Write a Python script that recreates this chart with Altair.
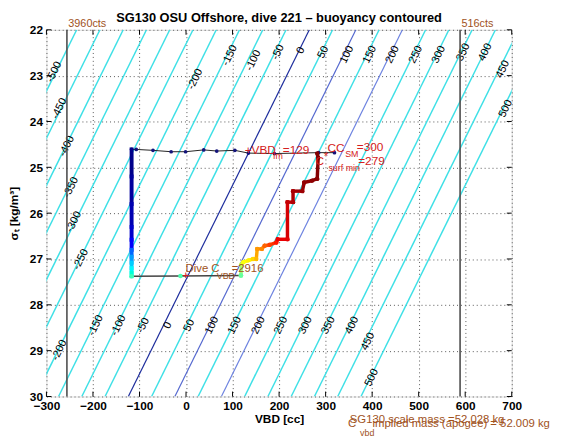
import altair as alt
import pandas as pd

FONT = "Liberation Sans"
RED = "#d42020"
BROWN = "#a0521c"

# ---------------- axes ----------------
x_ticks = [-300, -200, -100, 0, 100, 200, 300, 400, 500, 600, 700]
y_ticks = [22, 23, 24, 25, 26, 27, 28, 29, 30]

# ---------------- buoyancy contours (g) ----------------
levels = [-500, -450, -400, -350, -300, -250, -200, -150, -100, -50, 0,
          50, 100, 150, 200, 250, 300, 350, 400, 450, 500]
vbd_at_sigma22 = [-235, -185, -135, -85, -35, 15, 65, 115, 165, 215, 265,
                  315, 365, 415, 465, 515, 565, 615, 665, 715, 765]
vbd_at_sigma30 = [-624, -574, -524, -474, -424, -374, -324, -274, -224, -174, -124,
                  -74, -24, 26, 76, 126, 176, 226, 276, 326, 376]
blue_levels = [0, 100, 200]
blue_colors = ["#1c2c9c", "#5468cf", "#6c82e0"]

label_levels = [-500, -450, -400, -350, -300, -250, -200,
                -200, -150, -100, -50, 0, 50, 100, 150, 200, 250, 300, 350, 400, 450, 500,
                -150, -100, -50, 0, 50, 100, 150, 200, 250, 300, 350, 400, 450, 500]
label_vbd = [-283, -272, -256, -247, -241, -226, -272,
             20, 94, 145, 198, 247, 295, 346, 395, 444, 494, 543, 596, 643, 681, 687,
             -194, -145, -92, -39, 7, 56, 105, 156, 204, 257, 306, 357, 391, 399]
label_sigma = [22.92, 23.72, 24.54, 25.44, 26.19, 27.01, 28.99,
               23.08, 22.56, 22.67, 22.49, 22.45, 22.49, 22.54, 22.54, 22.54, 22.54, 22.54,
               22.49, 22.49, 22.86, 23.72,
               28.45, 28.45, 28.45, 28.45, 28.45, 28.45, 28.45, 28.45, 28.45, 28.45,
               28.45, 28.45, 28.8, 29.59]

# ---------------- VBD count limits ----------------
cts_vbd = [-256, 589]
cts_text = ["3960cts", "516cts"]
cts_label_vbd = [-253, 592]
cts_label_sigma = [21.87, 21.87]

# ---------------- dive track ----------------
surf_vbd = [-117, -107, -71, -32, -1, 38, 66, 105, 134, 190, 285, 319]
surf_sigma = [24.61, 24.61, 24.63, 24.66, 24.66, 24.62, 24.645, 24.63, 24.69, 24.70, 24.68, 24.68]

desc_vbd = -117
desc_sigma = [24.61, 25.2, 25.8, 26.3, 26.58, 26.8, 26.95, 27.08, 27.2, 27.3, 27.376]
desc_t = [0.0, 0.02, 0.04, 0.06, 0.09, 0.15, 0.21, 0.27, 0.33, 0.40, 0.47]

apo_vbd = [-117, -12, 118]
apo_sigma = [27.376, 27.37, 27.36]
apo_t = [0.47, 0.48, 0.50]

climb_vbd = [118, 119, 123, 134, 144, 151, 153, 163, 169, 180, 194, 197, 218, 218,
             230, 230, 250, 254, 271, 282, 284, 282]
climb_sigma = [27.36, 27.12, 27.07, 27.03, 27.00, 27.00, 26.78, 26.78, 26.71, 26.69, 26.64,
               26.57, 26.57, 25.76, 25.76, 25.52, 25.52, 25.33, 25.29, 25.25, 24.79, 24.70]
climb_t = [0.50, 0.58, 0.62, 0.64, 0.68, 0.72, 0.76, 0.78, 0.82, 0.85, 0.87, 0.89, 0.90,
           0.93, 0.95, 0.96, 0.97, 0.98, 0.985, 0.99, 1.0, 1.0]

# ---------------- annotations ----------------
red_text = ["+VBD", "=129", "CC", "=300", "C", "*", "=279", "+"]
red_vbd = [126, 208, 304, 367, 278, 296, 370, -8]
red_sigma = [24.62, 24.62, 24.58, 24.56, 24.86, 24.75, 24.86, 27.355]
red_sub_text = ["fm", "SM", "surf min"]
red_sub_vbd = [187, 342, 306]
red_sub_sigma = [24.75, 24.71, 25.01]

brown_text = ["Dive C", "=2916", "SG130 scale mass =52.028 kg", "C",
              "implied mass (apogee) = 52.009 kg"]
brown_vbd = [-1, 98, 352, 348, 401]
brown_sigma = [27.226, 27.226, 30.51, 30.6, 30.6]
brown_sub_text = ["VBD", "vbd"]
brown_sub_vbd = [66, 374]
brown_sub_sigma = [27.376, 30.8]

TITLE = "SG130 OSU Offshore, dive 221 \u2013 buoyancy contoured"

# ---------------- build tables ----------------
W, H = 472, 372
xs = alt.Scale(domain=[-300, 700], nice=False, zero=False)
ys = alt.Scale(domain=[22, 30], nice=False, zero=False, reverse=True)
jet = alt.Scale(domain=[0, 0.125, 0.375, 0.625, 0.875, 1.0],
                range=["#000080", "#0000ff", "#00ffff", "#ffff00", "#ff0000", "#800000"])

x_axis = alt.Axis(values=x_ticks, grid=True, gridColor="#555555", gridDash=[1, 3],
                  gridWidth=1, ticks=False, domain=False, labelFont=FONT,
                  labelFontSize=12, labelFontWeight="bold", labelColor="black",
                  labelPadding=4, labelFlush=False, labelOverlap=False, format="d",
                  title="VBD [cc]", titleFont=FONT, titleFontSize=12,
                  titleFontWeight="bold", titleColor="black", titlePadding=2)
y_axis = alt.Axis(values=y_ticks, grid=True, gridColor="#555555", gridDash=[1, 3],
                  gridWidth=1, ticks=False, domain=False, labelFont=FONT,
                  labelFontSize=12, labelFontWeight="bold", labelColor="black",
                  labelPadding=4, labelFlush=False, labelOverlap=False, format="d",
                  title="\u03c3\u209c [kg/m\u00b3]", titleFont=FONT, titleFontSize=12,
                  titleFontWeight="bold", titleColor="black", titlePadding=9)


def X(f="vbd"):
    return alt.X(f"{f}:Q", scale=xs, axis=x_axis)


def Y(f="sigma"):
    return alt.Y(f"{f}:Q", scale=ys, axis=y_axis)


rows = []
for lv, xt, xb in zip(levels, vbd_at_sigma22, vbd_at_sigma30):
    rows.append({"level": lv, "vbd": xt, "sigma": 22})
    rows.append({"level": lv, "vbd": xb, "sigma": 30})
cont = pd.DataFrame(rows)
cyan_df = cont[~cont.level.isin(blue_levels)]
blue_df = cont[cont.level.isin(blue_levels)]

cyan_layer = alt.Chart(cyan_df).mark_line(clip=True, color="#3ee0e6", strokeWidth=1.5).encode(
    x=X(), y=Y(), detail="level:N", order="sigma:Q")

blue_layer = alt.Chart(blue_df).mark_line(clip=True, strokeWidth=1.2).encode(
    x=X(), y=Y(), detail="level:N", order="sigma:Q",
    color=alt.Color("level:N", scale=alt.Scale(domain=blue_levels, range=blue_colors),
                    legend=None))

labels_df = pd.DataFrame({"vbd": label_vbd, "sigma": label_sigma,
                          "txt": [str(v) for v in label_levels]})
labels_layer = alt.Chart(labels_df).mark_text(font=FONT, fontSize=11, color="black",
                                              angle=296, align="center",
                                              baseline="middle").encode(
    x=X(), y=Y(), text="txt:N")

cts_df = pd.DataFrame({"vbd": cts_vbd})
cts_layer = alt.Chart(cts_df).mark_rule(color="#4d4d4d", strokeWidth=1.6).encode(
    x=X(), y=alt.value(0), y2=alt.value(H))
cts_lab_df = pd.DataFrame({"vbd": cts_label_vbd, "sigma": cts_label_sigma, "txt": cts_text})
cts_lab_layer = alt.Chart(cts_lab_df).mark_text(font=FONT, fontSize=11, color=BROWN,
                                                align="left", baseline="middle").encode(
    x=X(), y=Y(), text="txt:N")

apo_df = pd.DataFrame({"vbd": apo_vbd, "sigma": apo_sigma, "t": apo_t})
apo_line = alt.Chart(apo_df).mark_line(color="#444444", strokeWidth=1.5).encode(
    x=X(), y=Y(), order="vbd:Q")

surf_df = pd.DataFrame({"vbd": surf_vbd, "sigma": surf_sigma})
surf_line = alt.Chart(surf_df).mark_line(color="#222222", strokeWidth=1).encode(
    x=X(), y=Y(), order="vbd:Q")
surf_dots = alt.Chart(surf_df).mark_circle(color="#14147a", size=14, opacity=1).encode(
    x=X(), y=Y())


def segments(xv, sv, tv):
    out = []
    for i in range(len(sv) - 1):
        out.append({"vbd": xv[i], "sigma": sv[i], "vbd2": xv[i + 1], "sigma2": sv[i + 1],
                    "t": (tv[i] + tv[i + 1]) / 2})
    return pd.DataFrame(out)


desc_df = segments([desc_vbd] * len(desc_sigma), desc_sigma, desc_t)
climb_df = segments(climb_vbd, climb_sigma, climb_t)

desc_layer = alt.Chart(desc_df).mark_rule(strokeWidth=4, strokeCap="square").encode(
    x=X(), y=Y(), x2="vbd2:Q", y2="sigma2:Q",
    color=alt.Color("t:Q", scale=jet, legend=None))
climb_layer = alt.Chart(climb_df).mark_rule(strokeWidth=3.5, strokeCap="square").encode(
    x=X(), y=Y(), x2="vbd2:Q", y2="sigma2:Q",
    color=alt.Color("t:Q", scale=jet, legend=None))

climb_pts = pd.DataFrame({"vbd": climb_vbd, "sigma": climb_sigma, "t": climb_t})
climb_dots = alt.Chart(climb_pts).mark_circle(size=20, opacity=1).encode(
    x=X(), y=Y(), color=alt.Color("t:Q", scale=jet, legend=None))
apo_dots = alt.Chart(apo_df).mark_circle(size=22, opacity=1).encode(
    x=X(), y=Y(), color=alt.Color("t:Q", scale=jet, legend=None))


def text_layer(texts, xv, sv, size, color):
    df = pd.DataFrame({"vbd": xv, "sigma": sv, "txt": texts})
    return alt.Chart(df).mark_text(font=FONT, fontSize=size, color=color, align="left",
                                   baseline="middle").encode(x=X(), y=Y(), text="txt:N")


red_main = text_layer(red_text, red_vbd, red_sigma, 12, RED)
red_sub = text_layer(red_sub_text, red_sub_vbd, red_sub_sigma, 9, RED)
brown_main = text_layer(brown_text, brown_vbd, brown_sigma, 11.5, BROWN)
brown_sub = text_layer(brown_sub_text, brown_sub_vbd, brown_sub_sigma, 9, BROWN)

# chart title drawn as a text mark above the plot frame
title_layer = alt.Chart(pd.DataFrame({"txt": [TITLE]})).mark_text(
    font=FONT, fontSize=13, fontWeight="bold", color="black", align="center",
    baseline="middle").encode(x=alt.value(W / 2), y=alt.value(-12), text="txt:N")

# inward ticks on all four sides
xt_df = pd.DataFrame({"vbd": x_ticks})
yt_df = pd.DataFrame({"sigma": y_ticks})
tick_bottom = alt.Chart(xt_df).mark_rule(color="black").encode(
    x=X(), y=alt.value(H), y2=alt.value(H - 5))
tick_top = alt.Chart(xt_df).mark_rule(color="black").encode(
    x=X(), y=alt.value(0), y2=alt.value(5))
tick_left = alt.Chart(yt_df).mark_rule(color="black").encode(
    y=Y(), x=alt.value(0), x2=alt.value(5))
tick_right = alt.Chart(yt_df).mark_rule(color="black").encode(
    y=Y(), x=alt.value(W), x2=alt.value(W - 5))

chart = alt.layer(
    cyan_layer, blue_layer, labels_layer, cts_layer, cts_lab_layer,
    apo_line, surf_line, surf_dots, desc_layer, climb_layer, climb_dots, apo_dots,
    red_main, red_sub, brown_main, brown_sub, title_layer,
    tick_bottom, tick_top, tick_left, tick_right,
).properties(
    width=W, height=H,
    autosize=alt.AutoSizeParams(type="none"),
    padding={"left": 39, "top": 19, "right": 51, "bottom": 40},
).configure_view(
    stroke="black", strokeWidth=1
).configure(
    background="white"
)

chart.save("out.html", embed_options={"renderer": "svg", "actions": False})
